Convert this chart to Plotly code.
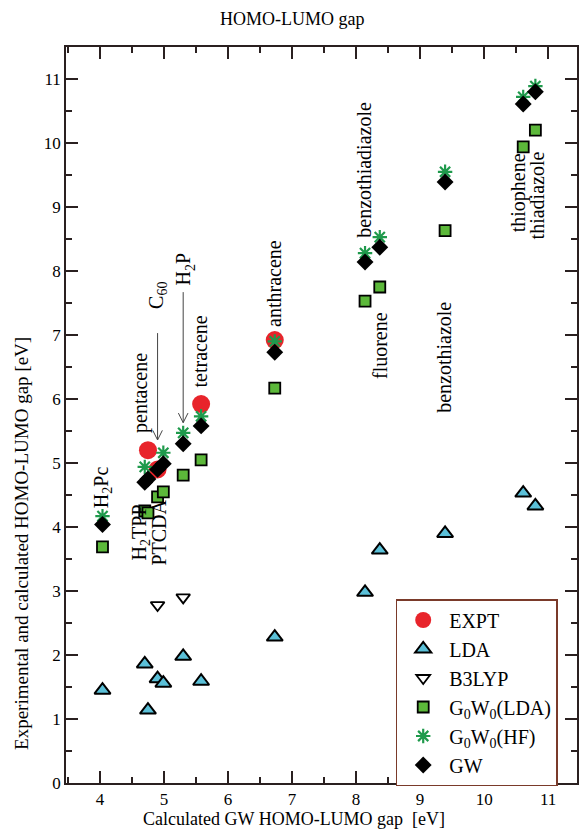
import plotly.graph_objects as go

# ---------------- data ----------------
molecules = ["H2Pc", "H2TPP", "pentacene", "C60", "PTCDA", "H2P", "tetracene",
             "anthracene", "benzothiadiazole", "fluorene", "benzothiazole",
             "thiophene", "thiadiazole"]
gw_gap = [4.04, 4.70, 4.75, 4.90, 4.99, 5.30, 5.58, 6.73, 8.14, 8.37, 9.39, 10.61, 10.80]
expt = [None, None, 5.20, 4.90, None, None, 5.92, 6.92, None, None, None, None, None]
lda = [1.45, 1.86, 1.14, 1.63, 1.56, 1.98, 1.59, 2.28, 2.98, 3.64, 3.90, 4.53, 4.33]
b3lyp = [None, None, None, 2.78, None, 2.90, None, None, None, None, None, None, None]
g0w0_lda = [3.69, 4.25, 4.22, 4.47, 4.55, 4.81, 5.05, 6.17, 7.53, 7.75, 8.63, 9.94, 10.20]
g0w0_hf = [4.17, 4.94, None, None, 5.16, 5.47, 5.73, 6.90, 8.28, 8.53, 9.55, 10.72, 10.89]
gw = [4.04, 4.70, 4.75, 4.90, 4.99, 5.30, 5.58, 6.73, 8.14, 8.37, 9.39, 10.61, 10.80]

x_ticks = [4, 5, 6, 7, 8, 9, 10, 11]
y_ticks = list(range(0, 12))

# molecule labels (text, x, y) placed beside the points
label_text = ["H<sub>2</sub>Pc", "H<sub>2</sub>TPP", "PTCDA", "pentacene", "C<sub>60</sub>",
              "H<sub>2</sub>P", "tetracene", "anthracene", "benzothiadiazole", "fluorene",
              "benzothiazole", "thiophene", "thiadiazole"]
label_x = [4.03, 4.63, 4.93, 4.63, 4.90, 5.32, 5.57, 6.72, 8.12, 8.37, 9.38, 10.55, 10.84]
label_y = [4.62, 3.92, 3.92, 6.10, 7.62, 8.03, 6.75, 7.80, 9.58, 6.84, 6.65, 9.22, 9.18]

FONT = "Liberation Serif, Times New Roman, serif"
AX = "#2a2020"

fig = go.Figure()

fig.add_trace(go.Scatter(x=gw_gap, y=expt, mode="markers", name="EXPT",
                         marker=dict(symbol="circle", size=18, color="#e8242b",
                                     line=dict(width=0))))
fig.add_trace(go.Scatter(x=gw_gap, y=lda, mode="markers", name="LDA",
                         marker=dict(symbol="triangle-up", size=14, color="#5bc0d8",
                                     line=dict(width=2, color="black"))))
fig.add_trace(go.Scatter(x=gw_gap, y=b3lyp, mode="markers", name="B3LYP",
                         marker=dict(symbol="triangle-down-open", size=12, color="black",
                                     line=dict(width=1.8, color="black"))))
fig.add_trace(go.Scatter(x=gw_gap, y=g0w0_lda, mode="markers", name="G<sub>0</sub>W<sub>0</sub>(LDA)",
                         marker=dict(symbol="square", size=11, color="#5cb83a",
                                     line=dict(width=1.8, color="black"))))
fig.add_trace(go.Scatter(x=gw_gap, y=g0w0_hf, mode="markers", name="G<sub>0</sub>W<sub>0</sub>(HF)",
                         marker=dict(symbol="asterisk-open", size=12, color="#1f9a4c",
                                     line=dict(width=2.2, color="#1f9a4c"))))
fig.add_trace(go.Scatter(x=gw_gap, y=gw, mode="markers", name="GW",
                         marker=dict(symbol="diamond", size=13, color="black",
                                     line=dict(width=0))))

annotations = []
for t, lx, ly in zip(label_text, label_x, label_y):
    annotations.append(dict(text=t, x=lx, y=ly, xref="x", yref="y", showarrow=False,
                            textangle=-90, font=dict(family=FONT, size=20, color="black"),
                            xanchor="center", yanchor="middle"))

annotations += [
    dict(text="HOMO-LUMO gap", x=(293 - 66) / 513, y=1 + (47 - 19) / 736, xref="paper", yref="paper",
         showarrow=False, yanchor="middle", font=dict(family=FONT, size=18, color="black")),
    dict(text="Calculated GW HOMO-LUMO gap&nbsp;&nbsp;[eV]", x=(295 - 66) / 513, y=-(819 - 783) / 736,
         xref="paper", yref="paper", showarrow=False, yanchor="middle",
         font=dict(family=FONT, size=18, color="black")),
    dict(text="Experimental and calculated HOMO-LUMO gap [eV]", x=-(66 - 22) / 513, y=0.325,
         xref="paper", yref="paper", showarrow=False, textangle=-90,
         xanchor="center", yanchor="middle", font=dict(family=FONT, size=19, color="black")),
]

# arrows for C60 and H2P labels
shapes = []
arrow_x = [4.90, 5.30]
arrow_top = [7.03, 7.67]
arrow_tip = [5.36, 5.63]
for ax_, top, tip in zip(arrow_x, arrow_top, arrow_tip):
    shapes.append(dict(type="line", xref="x", yref="y", x0=ax_, x1=ax_, y0=top, y1=tip,
                       line=dict(color="#444", width=1)))
    shapes.append(dict(type="path", xref="x", yref="y",
                       path=f"M {ax_-0.075},{tip+0.15} L {ax_},{tip} L {ax_+0.075},{tip+0.15}",
                       line=dict(color="#444", width=1)))

fig.update_layout(
    width=579, height=831,
    margin=dict(l=66, r=0, t=47, b=48),
    paper_bgcolor="white", plot_bgcolor="white",
    font=dict(family=FONT, size=17, color="black"),
    showlegend=True,
    legend=dict(x=(397 - 66) / 513, y=(783 - 599) / 736, xanchor="left", yanchor="top",
                bgcolor="white", bordercolor="#7a3a2a", borderwidth=1.5,
                font=dict(family=FONT, size=20, color="black"),
                itemsizing="trace", itemwidth=42),
    annotations=annotations,
    shapes=shapes,
)

axis_common = dict(showgrid=False, zeroline=False, showline=True, linecolor=AX, linewidth=1.5,
                   mirror="ticks", ticks="inside", ticklen=12, tickwidth=1.5, tickcolor=AX,
                   tickfont=dict(family=FONT, size=17, color="black"))
fig.update_xaxes(range=[3.47, 11.45], tickvals=x_ticks, **axis_common,
                 minor=dict(ticks="inside", ticklen=6, tickwidth=1.5, tickcolor=AX, dtick=0.5, tick0=0))
fig.update_yaxes(range=[0, 11.5], tickvals=y_ticks, **axis_common,
                 minor=dict(ticks="inside", ticklen=6, tickwidth=1.5, tickcolor=AX, dtick=0.5, tick0=0))

fig.write_html("out.html")
